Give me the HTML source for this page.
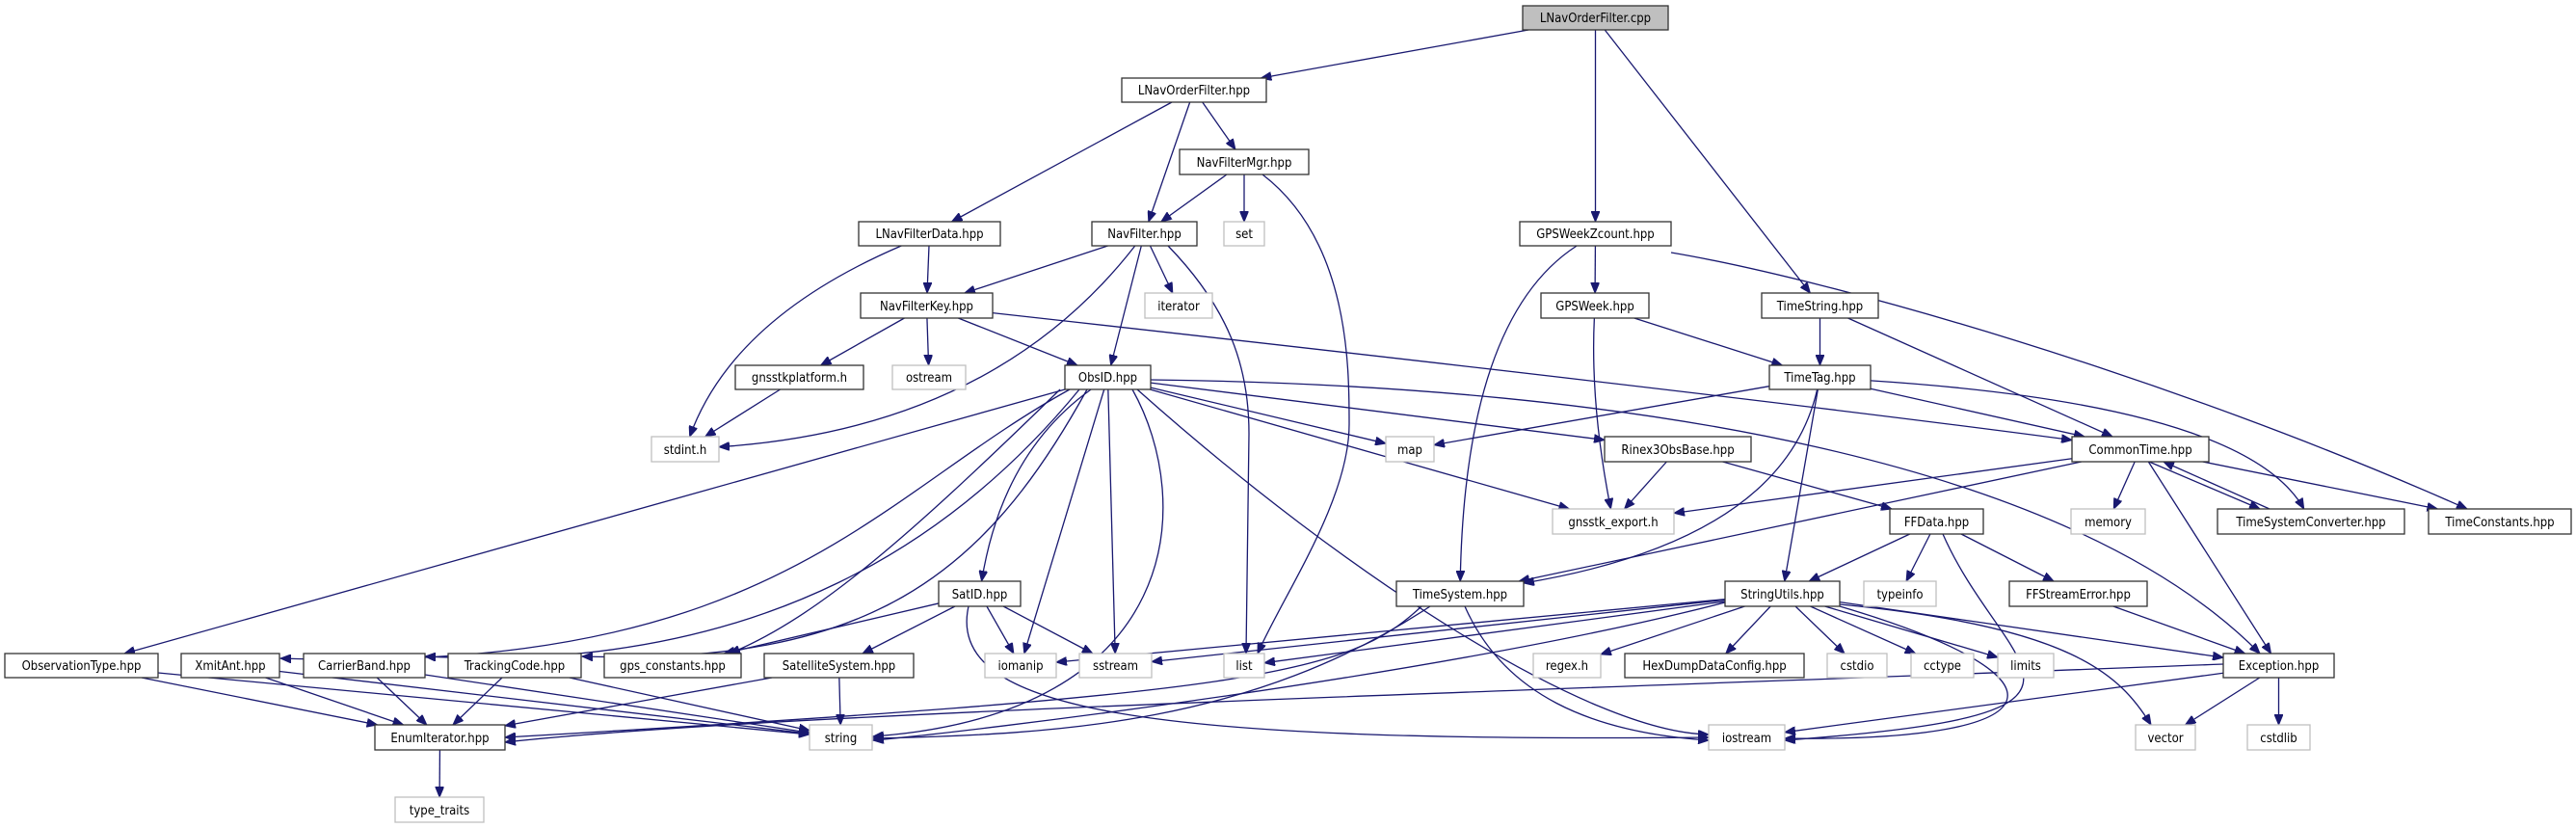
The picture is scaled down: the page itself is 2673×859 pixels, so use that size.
<!DOCTYPE html>
<html><head><meta charset="utf-8"><style>
html,body{margin:0;padding:0;background:#fff;}
svg{display:block;}
.n rect{fill:#fff;stroke:#333;stroke-width:1.3;}
.g rect{fill:#fff;stroke:#bfbfbf;stroke-width:1.3;}
text{font-family:"DejaVu Sans Condensed","DejaVu Sans","Liberation Sans",sans-serif;font-size:13px;fill:#000;text-anchor:middle;}
#edges path{fill:none;stroke:#191970;stroke-width:1.3;}
</style></head><body>
<svg id="svg" width="2673" height="859" viewBox="0 0 2673 859" xmlns="http://www.w3.org/2000/svg">
<defs><marker id="ah" markerUnits="userSpaceOnUse" markerWidth="12" markerHeight="9" refX="11" refY="4.5" orient="auto"><path d="M0,0 L11,4.5 L0,9 z" fill="#191970" stroke="#191970"/></marker></defs>
<g id="edges"></g>
<g id="nodes">
<g class="n"><rect x="1580" y="6" width="151" height="25" style="fill:#bfbfbf"/><text x="1655.5" y="23">LNavOrderFilter.cpp</text></g>
<g class="n"><rect x="1164" y="81" width="150" height="25"/><text x="1239" y="98">LNavOrderFilter.hpp</text></g>
<g class="n"><rect x="1224" y="155" width="134" height="26"/><text x="1291" y="173">NavFilterMgr.hpp</text></g>
<g class="n"><rect x="891" y="230" width="147" height="25"/><text x="964.5" y="247">LNavFilterData.hpp</text></g>
<g class="n"><rect x="1133" y="230" width="109" height="25"/><text x="1187.5" y="247">NavFilter.hpp</text></g>
<g class="g"><rect x="1270" y="230" width="42" height="25"/><text x="1291" y="247">set</text></g>
<g class="n"><rect x="1577" y="230" width="157" height="25"/><text x="1655.5" y="247">GPSWeekZcount.hpp</text></g>
<g class="n"><rect x="893" y="304" width="137" height="26"/><text x="961.5" y="322">NavFilterKey.hpp</text></g>
<g class="g"><rect x="1188" y="304" width="70" height="26"/><text x="1223" y="322">iterator</text></g>
<g class="n"><rect x="1599" y="304" width="112" height="26"/><text x="1655" y="322">GPSWeek.hpp</text></g>
<g class="n"><rect x="1828" y="304" width="121" height="26"/><text x="1888.5" y="322">TimeString.hpp</text></g>
<g class="n"><rect x="763" y="379" width="133" height="25"/><text x="829.5" y="396">gnsstkplatform.h</text></g>
<g class="g"><rect x="926" y="379" width="76" height="25"/><text x="964" y="396">ostream</text></g>
<g class="n"><rect x="1105" y="379" width="89" height="25"/><text x="1149.5" y="396">ObsID.hpp</text></g>
<g class="n"><rect x="1836" y="379" width="105" height="25"/><text x="1888.5" y="396">TimeTag.hpp</text></g>
<g class="g"><rect x="676" y="453" width="70" height="26"/><text x="711" y="471">stdint.h</text></g>
<g class="g"><rect x="1438" y="453" width="50" height="26"/><text x="1463" y="471">map</text></g>
<g class="n"><rect x="1665" y="453" width="152" height="26"/><text x="1741" y="471">Rinex3ObsBase.hpp</text></g>
<g class="n"><rect x="2150" y="453" width="142" height="26"/><text x="2221" y="471">CommonTime.hpp</text></g>
<g class="g"><rect x="1611" y="528" width="126" height="26"/><text x="1674" y="546">gnsstk_export.h</text></g>
<g class="n"><rect x="1961" y="528" width="97" height="26"/><text x="2009.5" y="546">FFData.hpp</text></g>
<g class="g"><rect x="2149" y="528" width="77" height="26"/><text x="2187.5" y="546">memory</text></g>
<g class="n"><rect x="2301" y="528" width="194" height="26"/><text x="2398" y="546">TimeSystemConverter.hpp</text></g>
<g class="n"><rect x="2520" y="528" width="148" height="26"/><text x="2594" y="546">TimeConstants.hpp</text></g>
<g class="n"><rect x="974" y="603" width="85" height="26"/><text x="1016.5" y="621">SatID.hpp</text></g>
<g class="n"><rect x="1449" y="603" width="132" height="26"/><text x="1515" y="621">TimeSystem.hpp</text></g>
<g class="n"><rect x="1790" y="603" width="119" height="26"/><text x="1849.5" y="621">StringUtils.hpp</text></g>
<g class="g"><rect x="1934" y="603" width="75" height="26"/><text x="1971.5" y="621">typeinfo</text></g>
<g class="n"><rect x="2085" y="603" width="143" height="26"/><text x="2156.5" y="621">FFStreamError.hpp</text></g>
<g class="n"><rect x="5" y="678" width="159" height="25"/><text x="84.5" y="695">ObservationType.hpp</text></g>
<g class="n"><rect x="188" y="678" width="102" height="25"/><text x="239" y="695">XmitAnt.hpp</text></g>
<g class="n"><rect x="315" y="678" width="126" height="25"/><text x="378" y="695">CarrierBand.hpp</text></g>
<g class="n"><rect x="465" y="678" width="138" height="25"/><text x="534" y="695">TrackingCode.hpp</text></g>
<g class="n"><rect x="627" y="678" width="142" height="25"/><text x="698" y="695">gps_constants.hpp</text></g>
<g class="n"><rect x="793" y="678" width="155" height="25"/><text x="870.5" y="695">SatelliteSystem.hpp</text></g>
<g class="g"><rect x="1022" y="678" width="74" height="25"/><text x="1059" y="695">iomanip</text></g>
<g class="g"><rect x="1120" y="678" width="75" height="25"/><text x="1157.5" y="695">sstream</text></g>
<g class="g"><rect x="1270" y="678" width="42" height="25"/><text x="1291" y="695">list</text></g>
<g class="g"><rect x="1591" y="678" width="70" height="25"/><text x="1626" y="695">regex.h</text></g>
<g class="n"><rect x="1686" y="678" width="186" height="25"/><text x="1779" y="695">HexDumpDataConfig.hpp</text></g>
<g class="g"><rect x="1896" y="678" width="62" height="25"/><text x="1927" y="695">cstdio</text></g>
<g class="g"><rect x="1983" y="678" width="65" height="25"/><text x="2015.5" y="695">cctype</text></g>
<g class="g"><rect x="2073" y="678" width="58" height="25"/><text x="2102" y="695">limits</text></g>
<g class="n"><rect x="2307" y="678" width="115" height="25"/><text x="2364.5" y="695">Exception.hpp</text></g>
<g class="n"><rect x="389" y="752" width="135" height="26"/><text x="456.5" y="770">EnumIterator.hpp</text></g>
<g class="g"><rect x="840" y="752" width="65" height="26"/><text x="872.5" y="770">string</text></g>
<g class="g"><rect x="1773" y="752" width="79" height="26"/><text x="1812.5" y="770">iostream</text></g>
<g class="g"><rect x="2216" y="752" width="62" height="26"/><text x="2247" y="770">vector</text></g>
<g class="g"><rect x="2332" y="752" width="65" height="26"/><text x="2364.5" y="770">cstdlib</text></g>
<g class="g"><rect x="410" y="827" width="92" height="26"/><text x="456" y="845">type_traits</text></g>
</g>
</svg>
<script>
var N={cpp:[1580,6,1731,31],lofh:[1164,81,1314,106],nfm:[1224,155,1358,181],lnfd:[891,230,1038,255],nf:[1133,230,1242,255],set:[1270,230,1312,255],gwz:[1577,230,1734,255],nfk:[893,304,1030,330],iter:[1188,304,1258,330],gw:[1599,304,1711,330],tstr:[1828,304,1949,330],gpl:[763,379,896,404],ost:[926,379,1002,404],obs:[1105,379,1194,404],ttag:[1836,379,1941,404],stdint:[676,453,746,479],map:[1438,453,1488,479],rinex:[1665,453,1817,479],ct:[2150,453,2292,479],gexp:[1611,528,1737,554],ffd:[1961,528,2058,554],mem:[2149,528,2226,554],tsc:[2301,528,2495,554],tc:[2520,528,2668,554],satid:[974,603,1059,629],tsys:[1449,603,1581,629],su:[1790,603,1909,629],tinfo:[1934,603,2009,629],ffse:[2085,603,2228,629],obt:[5,678,164,703],xmit:[188,678,290,703],cb:[315,678,441,703],tcode:[465,678,603,703],gpsc:[627,678,769,703],satsys:[793,678,948,703],iomanip:[1022,678,1096,703],sstream:[1120,678,1195,703],list:[1270,678,1312,703],regex:[1591,678,1661,703],hex:[1686,678,1872,703],cstdio:[1896,678,1958,703],cctype:[1983,678,2048,703],limits:[2073,678,2131,703],exc:[2307,678,2422,703],enumit:[389,752,524,778],string:[840,752,905,778],iostream:[1773,752,1852,778],vector:[2216,752,2278,778],cstdlib:[2332,752,2397,778],ttraits:[410,827,502,853]};
function cen(b){return[(b[0]+b[2])/2,(b[1]+b[3])/2];}
function clip(b,p){var c=cen(b),dx=p[0]-c[0],dy=p[1]-c[1],hw=(b[2]-b[0])/2,hh=(b[3]-b[1])/2;var t=Math.min(dx?hw/Math.abs(dx):1e9,dy?hh/Math.abs(dy):1e9);return[c[0]+dx*t,c[1]+dy*t];}
var D=[];
function S(a,b){var A=N[a],B=N[b];var s=clip(A,cen(B)),e=clip(B,cen(A));D.push("M"+s+" L"+e);}
function Q(a,b,c){var s=clip(N[a],c),e=clip(N[b],c);D.push("M"+s+" Q"+c+" "+e);}
"cpp-lofh cpp-gwz cpp-tstr lofh-lnfd lofh-nf lofh-nfm nfm-nf nfm-set lnfd-nfk nf-nfk nf-iter nf-obs nfk-gpl nfk-ost nfk-obs gwz-gw gw-ttag tstr-ttag tstr-ct gpl-stdint obs-obt obs-iomanip obs-sstream obs-map obs-gexp obs-rinex ttag-map ttag-ct ttag-su rinex-gexp rinex-ffd ct-gexp ct-mem ct-tc ct-exc ct-tsys ffd-su ffd-tinfo ffd-ffse satid-iomanip satid-sstream su-iomanip su-sstream su-list su-regex su-hex su-cstdio su-cctype su-limits su-exc ffse-exc exc-vector exc-cstdlib exc-iostream obt-enumit xmit-enumit cb-enumit tcode-enumit satsys-enumit satsys-string enumit-ttraits obt-string xmit-string cb-string tcode-string satid-gpsc satid-satsys".split(" ").forEach(function(e){var p=e.split("-");S(p[0],p[1]);});
Q("nfk","ct",[1800,410]);Q("lnfd","stdint",[760,330]);Q("nf","stdint",[1030,445]);Q("gwz","tsys",[1520,330]);Q("gw","gexp",[1650,420]);Q("obs","satid",[1040,470]);Q("ttag","tsys",[1850,560]);Q("ttag","tsc",[2330,420]);
D.push("M2230,479 L2345,528","M2355,528 L2245,479");
D.push("M1212,255 C1275,320 1296,380 1296,450 L1293,678","M1180,404 C1400,600 1650,760 1773,762");
D.push("M1734,262 C1900,290 2250,390 2560,528","M1175,404 C1240,520 1230,740 906,764","M1194,394 C1700,400 2150,480 2345,678","M1005,629 C980,740 1200,770 1773,765","M1484,629 C1300,750 1100,762 906,766","M1475,629 C1400,700 1300,720 524,765","M1520,629 C1560,720 1650,760 1773,768","M1790,625 C1500,700 1000,760 906,768","M1909,629 C2150,700 2150,770 1852,766","M2016,554 C2080,700 2230,740 1852,768","M1909,627 C2150,650 2200,700 2232,752","M2307,689 C1500,720 800,740 524,770","M1110,404 C900,520 800,700 291,683","M1120,404 C1000,550 800,700 441,681","M1128,404 C1020,600 900,690 604,681","M1100,404 C950,550 850,640 757,678","M1310,181 C1400,250 1400,380 1400,440 C1400,520 1330,620 1305,678");
var g=document.getElementById("edges");
D.forEach(function(d){var p=document.createElementNS("http://www.w3.org/2000/svg","path");p.setAttribute("d",d);p.setAttribute("marker-end","url(#ah)");g.appendChild(p);});
</script>
</body></html>
